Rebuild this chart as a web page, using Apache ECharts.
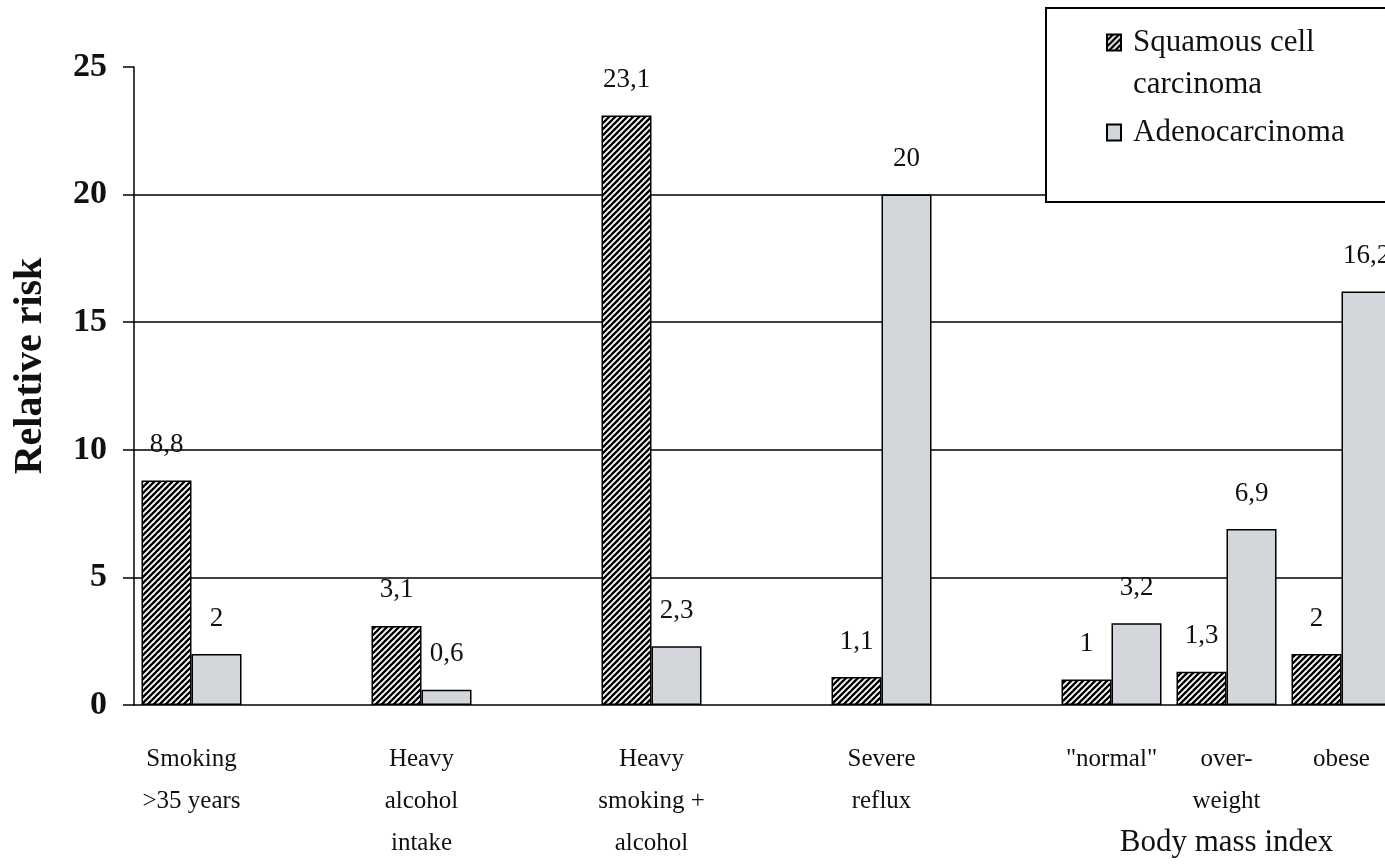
<!DOCTYPE html>
<html><head><meta charset="utf-8">
<script src="https://cdn.jsdelivr.net/npm/echarts@6/dist/echarts.min.js"></script>
<style>html,body{margin:0;padding:0;background:#fff}#c{width:1385px;height:865px}</style>
</head><body><div id="c"></div>
<script>
// ---- data ----
const categories = ['Smoking\n>35 years', 'Heavy\nalcohol\nintake', 'Heavy\nsmoking +\nalcohol', 'Severe\nreflux', '"normal"', 'over-\nweight', 'obese'];
const groupLabel = 'Body mass index';
const squamous = [8.8, 3.1, 23.1, 1.1, 1, 1.3, 2];
const adeno = [2, 0.6, 2.3, 20, 3.2, 6.9, 16.2];
const yTicks = [0, 5, 10, 15, 20, 25];
const seriesNames = ['Squamous cell\ncarcinoma', 'Adenocarcinoma'];
const yName = 'Relative risk';

// ---- layout (slot of each category on the axis) ----
const slots = [0, 2, 4, 6, 8, 9, 10];
const nSlots = 11;
const FONT = "'Liberation Serif','Times New Roman',serif";

const axisCats = Array(nSlots).fill('');
const sqData = Array(nSlots).fill('-');
const adData = Array(nSlots).fill('-');
slots.forEach((s, i) => { axisCats[s] = categories[i]; sqData[s] = squamous[i]; adData[s] = adeno[i]; });

// hatch pattern
const tile = document.createElement('canvas');
const S = 6; tile.width = S; tile.height = S;
const tc = tile.getContext('2d');
tc.fillStyle = '#fff'; tc.fillRect(0, 0, S, S);
tc.strokeStyle = '#000'; tc.lineWidth = 2.3; tc.lineCap = 'square';
tc.beginPath();
tc.moveTo(-1, 1); tc.lineTo(1, -1);
tc.moveTo(0, S); tc.lineTo(S, 0);
tc.moveTo(S - 1, S + 1); tc.lineTo(S + 1, S - 1);
tc.stroke();

const fmtVal = p => String(p.value).replace('.', ',');
const labelCfg = { show: true, position: 'top', distance: 22, fontSize: 27, color: '#111', fontFamily: FONT, formatter: fmtVal };

const chart = echarts.init(document.getElementById('c'), null, { renderer: 'canvas' });
chart.setOption({
  animation: false,
  backgroundColor: '#fff',
  grid: { left: 134, top: 67, bottom: 160, right: -14, outerBoundsMode: 'none', containLabel: false },
  graphic: [{
    type: 'rect', z: 3, silent: true,
    shape: { x: 1046, y: 8, width: 360, height: 194 },
    style: { fill: '#fff', stroke: '#000', lineWidth: 2 }
  }],
  legend: {
    orient: 'vertical', left: 1106, top: 0, padding: 0, z: 5,
    icon: 'rect', itemWidth: 14, itemHeight: 16, itemGap: 17,
    formatter: name => {
      const lines = name.split('\n');
      const parts = lines.map(l => '{a|' + l + '}');
      if (lines.length > 1) parts.unshift('{s| }');
      return parts.join('\n');
    },
    textStyle: {
      rich: {
        a: { fontFamily: FONT, fontSize: 31, lineHeight: 42, color: '#111', padding: [0, 0, 0, 7] },
        s: { fontSize: 1, lineHeight: 42 }
      }
    },
    data: seriesNames
  },
  xAxis: {
    type: 'category', data: axisCats,
    axisLine: { lineStyle: { color: '#000', width: 1.5 } },
    axisTick: { show: false },
    axisLabel: {
      interval: 0, margin: 33, color: '#111',
      formatter: (v, idx) => {
        if (!v) return '';
        let s = v.split('\n').map(l => '{a|' + l + '}').join('\n');
        if (idx === slots[5]) s += '\n{b|' + groupLabel + '}';
        return s;
      },
      rich: {
        a: { fontFamily: FONT, fontSize: 25, lineHeight: 42, color: '#111' },
        b: { fontFamily: FONT, fontSize: 31, lineHeight: 42, color: '#111' }
      }
    }
  },
  yAxis: {
    type: 'value', min: yTicks[0], max: yTicks[yTicks.length - 1], interval: 5,
    name: yName, nameLocation: 'middle', nameGap: 83,
    nameTextStyle: { fontFamily: FONT, fontSize: 40, fontWeight: 'bold', color: '#111', padding: [0, 0, 0, 40] },
    axisLine: { show: true, lineStyle: { color: '#000', width: 1.5 } },
    axisTick: { show: true, inside: false, length: 11, lineStyle: { color: '#000', width: 1.5 } },
    axisLabel: { margin: 27, fontFamily: FONT, fontSize: 34, fontWeight: 'bold', color: '#111' },
    splitLine: { show: true, showMinLine: false, showMaxLine: false, lineStyle: { color: '#000', width: 1.5 } }
  },
  series: [
    {
      name: seriesNames[0], type: 'bar', data: sqData, barWidth: 50, barGap: '0%',
      itemStyle: { color: { image: tile, repeat: 'repeat' }, borderColor: '#000', borderWidth: 1.5 },
      label: labelCfg
    },
    {
      name: seriesNames[1], type: 'bar', data: adData, barWidth: 50,
      itemStyle: { color: '#d3d6da', borderColor: '#000', borderWidth: 1.5 },
      label: labelCfg
    }
  ]
});
</script></body></html>
